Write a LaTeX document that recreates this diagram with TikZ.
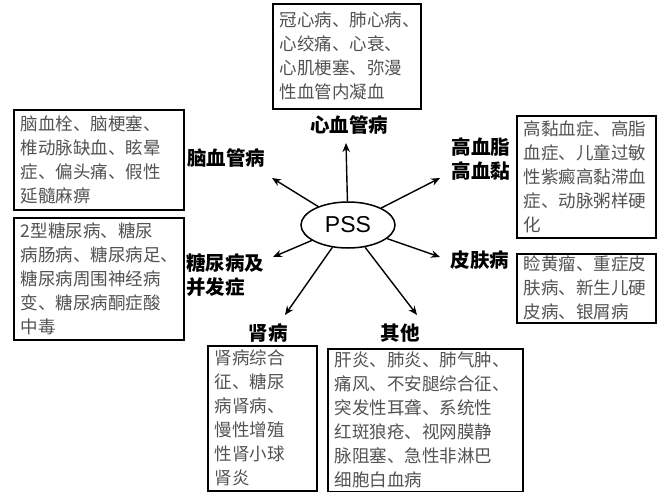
\documentclass[tikz,border=0pt]{standalone}
\usepackage{fontspec}
\setmainfont{Liberation Sans}
\newfontfamily\cjk{Noto Sans CJK SC}
\usetikzlibrary{arrows.meta,shapes.geometric}
\begin{document}
\begin{tikzpicture}[x=1pt,y=-1pt,
  box/.style={draw,line width=1.6pt,anchor=north west,inner xsep=7pt,inner ysep=0pt,align=left,
    font=\cjk\fontsize{17.5}{24}\selectfont,text=black!68},
  lab/.style={font=\cjk\bfseries\fontsize{19.5}{24.5}\selectfont,inner sep=0pt,align=left},
  arr/.style={-{Stealth[length=9pt,width=7.5pt]},line width=1.4pt}]
\useasboundingbox (0,0) rectangle (659,492);
% boxes
\node[box,minimum width=148pt,minimum height=105pt,text width=134pt] (cvb) at (272,3)
  {冠心病、肺心病、\\心绞痛、心衰、\\心肌梗塞、弥漫\\性血管内凝血};
\node[box,minimum width=170pt,minimum height=100pt,text width=156pt] (brb) at (13,109)
  {脑血栓、脑梗塞、\\椎动脉缺血、眩晕\\症、偏头痛、假性\\延髓麻痹};
\node[box,minimum width=139pt,minimum height=122pt,text width=125pt] (lpb) at (516,115)
  {高黏血症、高脂\\血症、儿童过敏\\性紫癜高黏滞血\\症、动脉粥样硬\\化};
\node[box,minimum width=170pt,minimum height=122pt,text width=156pt] (dmb) at (13,217)
  {2型糖尿病、糖尿\\病肠病、糖尿病足、\\糖尿病周围神经病\\变、糖尿病酮症酸\\中毒};
\node[box,minimum width=139pt,minimum height=69pt,text width=125pt] (skb) at (516,253)
  {睑黄瘤、重症皮\\肤病、新生儿硬\\皮病、银屑病};
\node[box,minimum width=109pt,minimum height=145pt,text width=95pt] (kdb) at (207,345)
  {肾病综合\\征、糖尿\\病肾病、\\慢性增殖\\性肾小球\\肾炎};
\node[box,minimum width=195pt,minimum height=143pt,text width=181pt] (otb) at (327,348)
  {肝炎、肺炎、肺气肿、\\痛风、不安腿综合征、\\突发性耳聋、系统性\\红斑狼疮、视网膜静\\脉阻塞、急性非淋巴\\细胞白血病};
% labels
\node[lab] (cv) at (349,125) {心血管病};
\node[lab] (br) at (226,158) {脑血管病};
\node[lab] (lp) at (481,159) {高血脂\\高血黏};
\node[lab] (sk) at (480,260) {皮肤病};
\node[lab,anchor=west] (dm) at (186,275) {糖尿病及\\并发症};
\node[lab] (kd) at (268,333) {肾病};
\node[lab] (ot) at (400,333) {其他};
% center
\node[draw,ellipse,line width=1.5pt,minimum width=94pt,minimum height=46pt,inner sep=0pt,
  font=\fontsize{23}{23}\selectfont] (pss) at (348,225) {PSS};
% arrow tips
\coordinate (tcv) at (346,143);
\coordinate (tbr) at (272,178);
\coordinate (tlp) at (440,178);
\coordinate (tdm) at (273,257);
\coordinate (tsk) at (440,257);
\coordinate (tkd) at (285,315);
\coordinate (tot) at (417,315);
\foreach \t in {tcv,tbr,tlp,tdm,tsk,tkd,tot}
  \draw[arr] (pss) -- (\t);
\end{tikzpicture}
\end{document}
